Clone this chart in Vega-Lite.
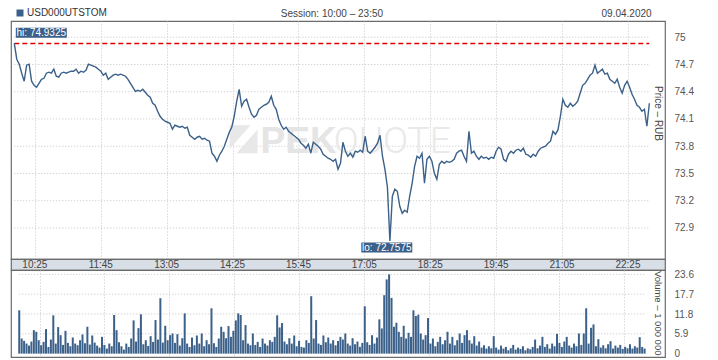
{
"$schema": "https://vega.github.io/schema/vega-lite/v6.json",
"background": "white",
"padding": {"left": 10, "top": 7, "right": 0, "bottom": 0},
"spacing": 0,
"bounds": "flush",
"config": {
  "font": "Liberation Sans, Arial, sans-serif",
  "view": {"stroke": "#6b6b6b", "strokeWidth": 1.2},
  "axis": {"labelFont": "Liberation Sans, Arial, sans-serif", "titleFont": "Liberation Sans, Arial, sans-serif", "labelFontSize": 10, "titleFontSize": 10, "labelColor": "#555", "titleColor": "#444", "titleFontWeight": "normal", "labelOverlap": false},
  "legend": {"labelFont": "Liberation Sans, Arial, sans-serif", "labelFontSize": 10},
  "text": {"font": "Liberation Sans, Arial, sans-serif"}
},
"resolve": {"scale": {"x": "independent", "y": "independent", "color": "independent"}},
"datasets": {
  "pgrid": [{"y":72.9},{"y":73.2},{"y":73.5},{"y":73.8},{"y":74.1},{"y":74.4},{"y":74.7},{"y":75}],
  "vgrid": [{"y":5.9},{"y":11.8},{"y":17.7},{"y":23.6}],
  "ticks": [{"m":25,"label":"10:25"},{"m":105,"label":"11:45"},{"m":185,"label":"13:05"},{"m":265,"label":"14:25"},{"m":345,"label":"15:45"},{"m":425,"label":"17:05"},{"m":505,"label":"18:25"},{"m":585,"label":"19:45"},{"m":665,"label":"21:05"},{"m":745,"label":"22:25"}],
  "hilo": [{"kind":"hi","m":0,"p":74.9325,"label":"hi: 74.9325"},{"kind":"lo","m":456,"p":72.7575,"label":"lo: 72.7575"}],
  "series": [
{"m":0,"p":74.9325,"v":12.9},{"m":3,"p":74.758,"v":4.5},{"m":6,"p":74.703,"v":3.8},{"m":9,"p":74.604,"v":3.0},{"m":12,"p":74.516,"v":2.4},{"m":15,"p":74.692,"v":3.6},{"m":18,"p":74.703,"v":7.0},{"m":21,"p":74.516,"v":6.5},{"m":24,"p":74.471,"v":4.0},{"m":27,"p":74.449,"v":2.5},
{"m":30,"p":74.493,"v":3.5},{"m":33,"p":74.537,"v":7.3},{"m":36,"p":74.548,"v":2.0},{"m":39,"p":74.604,"v":4.2},{"m":42,"p":74.615,"v":11.4},{"m":45,"p":74.604,"v":3.0},{"m":48,"p":74.648,"v":7.9},{"m":51,"p":74.571,"v":5.5},{"m":54,"p":74.560,"v":2.6},{"m":57,"p":74.604,"v":6.8},
{"m":60,"p":74.615,"v":3.2},{"m":63,"p":74.604,"v":2.2},{"m":66,"p":74.615,"v":4.8},{"m":69,"p":74.626,"v":3.0},{"m":72,"p":74.626,"v":2.5},{"m":75,"p":74.648,"v":4.0},{"m":78,"p":74.604,"v":5.7},{"m":81,"p":74.626,"v":3.1},{"m":84,"p":74.615,"v":8.0},{"m":87,"p":74.637,"v":2.7},
{"m":90,"p":74.703,"v":5.4},{"m":93,"p":74.692,"v":3.3},{"m":96,"p":74.681,"v":2.4},{"m":99,"p":74.670,"v":1.8},{"m":102,"p":74.648,"v":5.0},{"m":105,"p":74.626,"v":2.6},{"m":108,"p":74.582,"v":1.5},{"m":111,"p":74.604,"v":3.0},{"m":114,"p":74.537,"v":2.2},{"m":117,"p":74.560,"v":11.5},
{"m":120,"p":74.582,"v":7.0},{"m":123,"p":74.593,"v":3.4},{"m":126,"p":74.582,"v":2.2},{"m":129,"p":74.593,"v":1.2},{"m":132,"p":74.582,"v":3.0},{"m":135,"p":74.571,"v":2.0},{"m":138,"p":74.537,"v":4.5},{"m":141,"p":74.493,"v":9.9},{"m":144,"p":74.449,"v":3.6},{"m":147,"p":74.405,"v":7.6},
{"m":150,"p":74.416,"v":11.7},{"m":153,"p":74.405,"v":2.8},{"m":156,"p":74.427,"v":4.0},{"m":159,"p":74.394,"v":2.3},{"m":162,"p":74.361,"v":5.2},{"m":165,"p":74.339,"v":3.5},{"m":168,"p":74.273,"v":10.0},{"m":171,"p":74.251,"v":4.2},{"m":174,"p":74.185,"v":16.5},{"m":177,"p":74.130,"v":3.3},
{"m":180,"p":74.097,"v":8.3},{"m":183,"p":74.075,"v":4.0},{"m":186,"p":74.064,"v":5.5},{"m":189,"p":74.053,"v":6.0},{"m":192,"p":73.987,"v":3.2},{"m":195,"p":74.031,"v":5.8},{"m":198,"p":74.020,"v":2.4},{"m":201,"p":74.009,"v":4.6},{"m":204,"p":74.020,"v":12.0},{"m":207,"p":73.998,"v":3.0},
{"m":210,"p":74.009,"v":2.0},{"m":213,"p":73.921,"v":4.8},{"m":216,"p":73.899,"v":2.5},{"m":219,"p":73.877,"v":5.4},{"m":222,"p":73.899,"v":3.0},{"m":225,"p":73.910,"v":6.0},{"m":228,"p":73.877,"v":2.2},{"m":231,"p":73.888,"v":4.0},{"m":234,"p":73.866,"v":2.8},{"m":237,"p":73.855,"v":13.5},
{"m":240,"p":73.723,"v":3.1},{"m":243,"p":73.690,"v":2.0},{"m":246,"p":73.634,"v":4.5},{"m":249,"p":73.701,"v":8.0},{"m":252,"p":73.745,"v":6.5},{"m":255,"p":73.800,"v":4.6},{"m":258,"p":73.877,"v":8.2},{"m":261,"p":73.954,"v":5.0},{"m":264,"p":74.009,"v":6.8},{"m":267,"p":74.130,"v":9.9},
{"m":270,"p":74.295,"v":12.0},{"m":273,"p":74.427,"v":11.5},{"m":276,"p":74.240,"v":4.0},{"m":279,"p":74.295,"v":8.5},{"m":282,"p":74.317,"v":3.0},{"m":285,"p":74.229,"v":2.5},{"m":288,"p":74.152,"v":6.0},{"m":291,"p":74.119,"v":2.6},{"m":294,"p":74.141,"v":3.5},{"m":297,"p":74.207,"v":2.0},
{"m":300,"p":74.229,"v":4.5},{"m":303,"p":74.251,"v":3.0},{"m":306,"p":74.262,"v":2.4},{"m":309,"p":74.284,"v":4.0},{"m":312,"p":74.350,"v":3.5},{"m":315,"p":74.251,"v":5.0},{"m":318,"p":74.207,"v":11.4},{"m":321,"p":74.097,"v":7.8},{"m":324,"p":74.031,"v":9.1},{"m":327,"p":73.987,"v":3.6},
{"m":330,"p":74.009,"v":2.8},{"m":333,"p":73.965,"v":4.6},{"m":336,"p":73.943,"v":3.0},{"m":339,"p":73.921,"v":5.4},{"m":342,"p":73.899,"v":2.2},{"m":345,"p":73.877,"v":3.8},{"m":348,"p":73.833,"v":2.0},{"m":351,"p":73.811,"v":1.8},{"m":354,"p":73.778,"v":4.0},{"m":357,"p":73.822,"v":3.2},
{"m":360,"p":73.723,"v":17.1},{"m":363,"p":73.844,"v":4.5},{"m":366,"p":73.822,"v":10.0},{"m":369,"p":73.800,"v":3.0},{"m":372,"p":73.767,"v":2.6},{"m":375,"p":73.712,"v":5.4},{"m":378,"p":73.690,"v":3.4},{"m":381,"p":73.668,"v":4.8},{"m":384,"p":73.656,"v":3.0},{"m":387,"p":73.634,"v":4.0},
{"m":390,"p":73.656,"v":2.5},{"m":393,"p":73.546,"v":3.8},{"m":396,"p":73.612,"v":5.0},{"m":399,"p":73.844,"v":4.2},{"m":402,"p":73.745,"v":6.0},{"m":405,"p":73.690,"v":3.0},{"m":408,"p":73.723,"v":2.4},{"m":411,"p":73.679,"v":4.6},{"m":414,"p":73.745,"v":2.8},{"m":417,"p":73.734,"v":3.6},
{"m":420,"p":73.756,"v":2.0},{"m":423,"p":73.734,"v":3.2},{"m":426,"p":73.910,"v":14.1},{"m":429,"p":73.745,"v":3.4},{"m":432,"p":73.723,"v":2.6},{"m":435,"p":73.756,"v":5.5},{"m":438,"p":73.789,"v":3.0},{"m":441,"p":73.833,"v":4.8},{"m":444,"p":73.921,"v":10.2},{"m":447,"p":73.690,"v":7.5},
{"m":450,"p":73.546,"v":17.4},{"m":453,"p":73.348,"v":22.1},{"m":456,"p":72.7575,"v":23.6},{"m":459,"p":73.249,"v":16.6},{"m":462,"p":73.326,"v":8.0},{"m":465,"p":73.304,"v":9.2},{"m":468,"p":73.139,"v":6.5},{"m":471,"p":73.062,"v":5.0},{"m":474,"p":73.095,"v":8.3},{"m":477,"p":73.073,"v":4.5},
{"m":480,"p":73.249,"v":6.2},{"m":483,"p":73.392,"v":5.0},{"m":486,"p":73.579,"v":12.9},{"m":489,"p":73.690,"v":11.2},{"m":492,"p":73.668,"v":11.6},{"m":495,"p":73.723,"v":6.0},{"m":498,"p":73.392,"v":4.2},{"m":501,"p":73.656,"v":5.5},{"m":504,"p":73.690,"v":10.6},{"m":507,"p":73.634,"v":3.0},
{"m":510,"p":73.502,"v":4.5},{"m":513,"p":73.436,"v":2.2},{"m":516,"p":73.601,"v":3.5},{"m":519,"p":73.634,"v":5.0},{"m":522,"p":73.612,"v":2.8},{"m":525,"p":73.634,"v":4.0},{"m":528,"p":73.623,"v":6.5},{"m":531,"p":73.634,"v":3.0},{"m":534,"p":73.656,"v":5.0},{"m":537,"p":73.723,"v":2.5},
{"m":540,"p":73.745,"v":4.0},{"m":543,"p":73.756,"v":6.0},{"m":546,"p":73.690,"v":3.2},{"m":549,"p":73.634,"v":5.5},{"m":552,"p":73.965,"v":7.0},{"m":555,"p":73.723,"v":4.0},{"m":558,"p":73.745,"v":3.0},{"m":561,"p":73.690,"v":5.2},{"m":564,"p":73.656,"v":2.4},{"m":567,"p":73.690,"v":3.6},
{"m":570,"p":73.668,"v":1.8},{"m":573,"p":73.679,"v":2.5},{"m":576,"p":73.656,"v":1.5},{"m":579,"p":73.679,"v":2.2},{"m":582,"p":73.668,"v":1.6},{"m":585,"p":73.745,"v":5.2},{"m":588,"p":73.789,"v":1.8},{"m":591,"p":73.767,"v":1.2},{"m":594,"p":73.656,"v":2.4},{"m":597,"p":73.634,"v":1.5},
{"m":600,"p":73.712,"v":2.0},{"m":603,"p":73.745,"v":1.0},{"m":606,"p":73.723,"v":1.6},{"m":609,"p":73.756,"v":2.6},{"m":612,"p":73.767,"v":1.2},{"m":615,"p":73.745,"v":1.8},{"m":618,"p":73.778,"v":1.4},{"m":621,"p":73.712,"v":2.2},{"m":624,"p":73.701,"v":1.0},{"m":627,"p":73.679,"v":1.6},
{"m":630,"p":73.712,"v":1.3},{"m":633,"p":73.690,"v":2.0},{"m":636,"p":73.745,"v":4.2},{"m":639,"p":73.778,"v":1.6},{"m":642,"p":73.789,"v":2.4},{"m":645,"p":73.800,"v":5.0},{"m":648,"p":73.833,"v":2.0},{"m":651,"p":73.855,"v":2.8},{"m":654,"p":73.965,"v":1.5},{"m":657,"p":73.932,"v":3.0},
{"m":660,"p":73.976,"v":2.2},{"m":663,"p":74.130,"v":5.9},{"m":666,"p":74.317,"v":3.2},{"m":669,"p":74.251,"v":2.0},{"m":672,"p":74.229,"v":3.6},{"m":675,"p":74.273,"v":5.0},{"m":678,"p":74.240,"v":2.4},{"m":681,"p":74.262,"v":1.8},{"m":684,"p":74.295,"v":3.0},{"m":687,"p":74.383,"v":2.2},
{"m":690,"p":74.471,"v":6.0},{"m":693,"p":74.493,"v":2.6},{"m":696,"p":74.537,"v":6.0},{"m":699,"p":74.582,"v":13.5},{"m":702,"p":74.604,"v":3.0},{"m":705,"p":74.692,"v":7.7},{"m":708,"p":74.604,"v":8.7},{"m":711,"p":74.626,"v":2.2},{"m":714,"p":74.648,"v":4.3},{"m":717,"p":74.593,"v":1.8},
{"m":720,"p":74.604,"v":2.5},{"m":723,"p":74.537,"v":1.6},{"m":726,"p":74.516,"v":2.8},{"m":729,"p":74.493,"v":3.7},{"m":732,"p":74.537,"v":1.5},{"m":735,"p":74.449,"v":2.4},{"m":738,"p":74.383,"v":1.8},{"m":741,"p":74.471,"v":2.6},{"m":744,"p":74.516,"v":1.4},{"m":747,"p":74.449,"v":2.0},
{"m":750,"p":74.372,"v":1.6},{"m":753,"p":74.317,"v":2.8},{"m":756,"p":74.251,"v":1.5},{"m":759,"p":74.229,"v":2.2},{"m":762,"p":74.185,"v":1.8},{"m":765,"p":74.207,"v":4.9},{"m":768,"p":74.020,"v":2.0},{"m":771,"p":74.273,"v":1.5}
  ]
},
"vconcat": [
  {
    "width": 654, "height": 238,
    "layer": [
      {"data": {"name": "pgrid"}, "mark": {"type": "rule", "color": "#c4c4c4", "strokeDash": [1, 2], "strokeWidth": 1},
       "encoding": {"x": {"datum": 0}, "x2": {"datum": 771}, "y": {"field": "y", "type": "quantitative"}}},
      {"data": {"values": [{"t": "logo"}]}, "mark": {"type": "point", "shape": "M-1,-1H0.5L-1,0.7Z M1,-0.7V1H-0.5Z", "size": 784, "filled": true, "opacity": 1, "color": "#e8e8e8"},
       "encoding": {"x": {"datum": 278.3}, "y": {"datum": 73.877}}},
      {"data": {"values": [{"t": "PEK"}]}, "mark": {"type": "text", "align": "left", "baseline": "alphabetic", "fontSize": 37, "fontWeight": "bold", "color": "#e5e5e5"},
       "encoding": {"x": {"datum": 299}, "y": {"datum": 73.722}, "text": {"field": "t"}}},
      {"data": {"values": [{"t": "QUOTE"}]}, "mark": {"type": "text", "align": "left", "baseline": "alphabetic", "fontSize": 37, "fontWeight": 300, "font": "Roboto, Lato, Liberation Sans, sans-serif", "color": "#e9e9e9"},
       "encoding": {"x": {"datum": 387.7}, "y": {"datum": 73.722}, "text": {"field": "t"}}},
      {"data": {"name": "hilo"}, "transform": [{"filter": "datum.kind == 'hi'"}], "mark": {"type": "rule", "color": "#e00000", "strokeDash": [5, 3], "strokeWidth": 1.5},
       "encoding": {"x": {"datum": 0}, "x2": {"datum": 771}, "y": {"field": "p", "type": "quantitative"}}},
      {"data": {"name": "series"}, "mark": {"type": "line", "strokeWidth": 1.4, "interpolate": "linear"},
       "encoding": {
         "x": {"field": "m", "type": "quantitative", "scale": {"domain": [-4, 790], "nice": false, "zero": false},
               "axis": {"orient": "bottom", "values": [25,105,185,265,345,425,505,585,665,745], "tickCount": 30, "labels": false, "ticks": false, "domain": false, "grid": true, "gridColor": "#c4c4c4", "gridDash": [1, 2], "title": null}},
         "y": {"field": "p", "type": "quantitative", "scale": {"domain": [72.558, 75.179], "nice": false, "zero": false},
               "axis": {"orient": "right", "values": [72.9,73.2,73.5,73.8,74.1,74.4,74.7,75], "tickCount": 30, "labelExpr": "'' + datum.value", "labelOverlap": false, "labelBound": false, "grid": false, "ticks": false, "tickSize": 0, "domain": false, "labelPadding": 9, "title": "Price – RUB", "titleAngle": 90, "titleX": -8, "titleY": 92, "titleAlign": "center", "titleBaseline": "middle"}},
         "color": {"datum": "USD000UTSTOM", "type": "nominal", "scale": {"range": ["#3b6089"]},
                   "legend": {"orient": "none", "legendX": 4, "legendY": -13, "title": null, "symbolType": "square", "symbolSize": 49, "symbolStrokeWidth": 0, "symbolFillColor": "#3b6089", "labelFontSize": 10, "labelColor": "#333", "labelOffset": 2, "padding": 0,
                              "encode": {"symbols": {"update": {"fill": {"value": "#3b6089"}, "stroke": {"value": "#3b6089"}, "strokeWidth": {"value": 0}, "shape": {"value": "square"}, "size": {"value": 49}}}}}}
       }},
      {"data": {"name": "hilo"}, "transform": [{"filter": "datum.kind == 'hi'"}], "mark": {"type": "point", "shape": "M-5.1,-1H5.1V1H-5.1Z", "size": 100, "filled": true, "opacity": 1, "color": "#3b6089", "xOffset": 27, "yOffset": -10.7},
       "encoding": {"x": {"field": "m", "type": "quantitative"}, "y": {"field": "p", "type": "quantitative"}}},
      {"data": {"name": "hilo"}, "transform": [{"filter": "datum.kind == 'hi'"}], "mark": {"type": "text", "align": "center", "baseline": "middle", "fontSize": 10, "color": "white", "xOffset": 27, "yOffset": -10.2},
       "encoding": {"x": {"field": "m", "type": "quantitative"}, "y": {"field": "p", "type": "quantitative"}, "text": {"field": "label"}}},
      {"data": {"name": "hilo"}, "transform": [{"filter": "datum.kind == 'lo'"}], "mark": {"type": "point", "shape": "M-5.1,-1H5.1V1H-5.1Z", "size": 100, "filled": true, "opacity": 1, "color": "#3b6089", "xOffset": -3.1, "yOffset": 6.6},
       "encoding": {"x": {"field": "m", "type": "quantitative"}, "y": {"field": "p", "type": "quantitative"}}},
      {"data": {"name": "hilo"}, "transform": [{"filter": "datum.kind == 'lo'"}], "mark": {"type": "text", "align": "center", "baseline": "middle", "fontSize": 10, "color": "white", "xOffset": -3.1, "yOffset": 7.1},
       "encoding": {"x": {"field": "m", "type": "quantitative"}, "y": {"field": "p", "type": "quantitative"}, "text": {"field": "label"}}},
      {"data": {"values": [{"t": "Session: 10:00 – 23:50"}]}, "mark": {"type": "text", "align": "center", "baseline": "alphabetic", "fontSize": 10, "color": "#444"},
       "encoding": {"x": {"datum": 385.6}, "y": {"datum": 75.2236}, "text": {"field": "t"}}},
      {"data": {"values": [{"t": "09.04.2020"}]}, "mark": {"type": "text", "align": "right", "baseline": "alphabetic", "fontSize": 10, "color": "#444"},
       "encoding": {"x": {"datum": 773.7}, "y": {"datum": 75.2236}, "text": {"field": "t"}}}
    ]
  },
  {
    "width": 654, "height": 11,
    "view": {"fill": "#d8dfe7", "stroke": "#6b6b6b", "strokeWidth": 1.2},
    "data": {"name": "ticks"},
    "mark": {"type": "text", "baseline": "middle", "fontSize": 10, "color": "#444", "dy": 0.5},
    "encoding": {
      "x": {"field": "m", "type": "quantitative", "scale": {"domain": [-4, 790], "nice": false, "zero": false}, "axis": null},
      "text": {"field": "label"}
    }
  },
  {
    "width": 654, "height": 87,
    "layer": [
      {"data": {"name": "vgrid"}, "mark": {"type": "rule", "color": "#c4c4c4", "strokeDash": [1, 2], "strokeWidth": 1},
       "encoding": {"x": {"datum": 0}, "x2": {"datum": 771}, "y": {"field": "y", "type": "quantitative"}}},
      {"data": {"name": "series"}, "mark": {"type": "bar", "width": 2, "color": "#3b6089"},
       "encoding": {
         "x": {"field": "m", "type": "quantitative", "scale": {"domain": [-4, 790], "nice": false, "zero": false},
               "axis": {"orient": "bottom", "values": [25,105,185,265,345,425,505,585,665,745], "tickCount": 30, "labels": false, "ticks": false, "domain": false, "grid": true, "gridColor": "#c4c4c4", "gridDash": [1, 2], "title": null}},
         "y": {"field": "v", "type": "quantitative", "scale": {"domain": [-1.0, 24.9], "nice": false, "zero": false},
               "axis": {"orient": "right", "values": [0, 5.9, 11.8, 17.7, 23.6], "tickCount": 30, "labelExpr": "'' + datum.value", "labelOverlap": false, "labelBound": false, "grid": false, "ticks": false, "tickSize": 0, "domain": false, "labelPadding": 9, "title": "Volume – 1 000 000", "titleFontSize": 9.5, "titleAngle": 90, "titleX": -8, "titleY": 42.7, "titleAlign": "center", "titleBaseline": "middle"}},
         "y2": {"datum": 0}
       }}
    ]
  }
]
}
